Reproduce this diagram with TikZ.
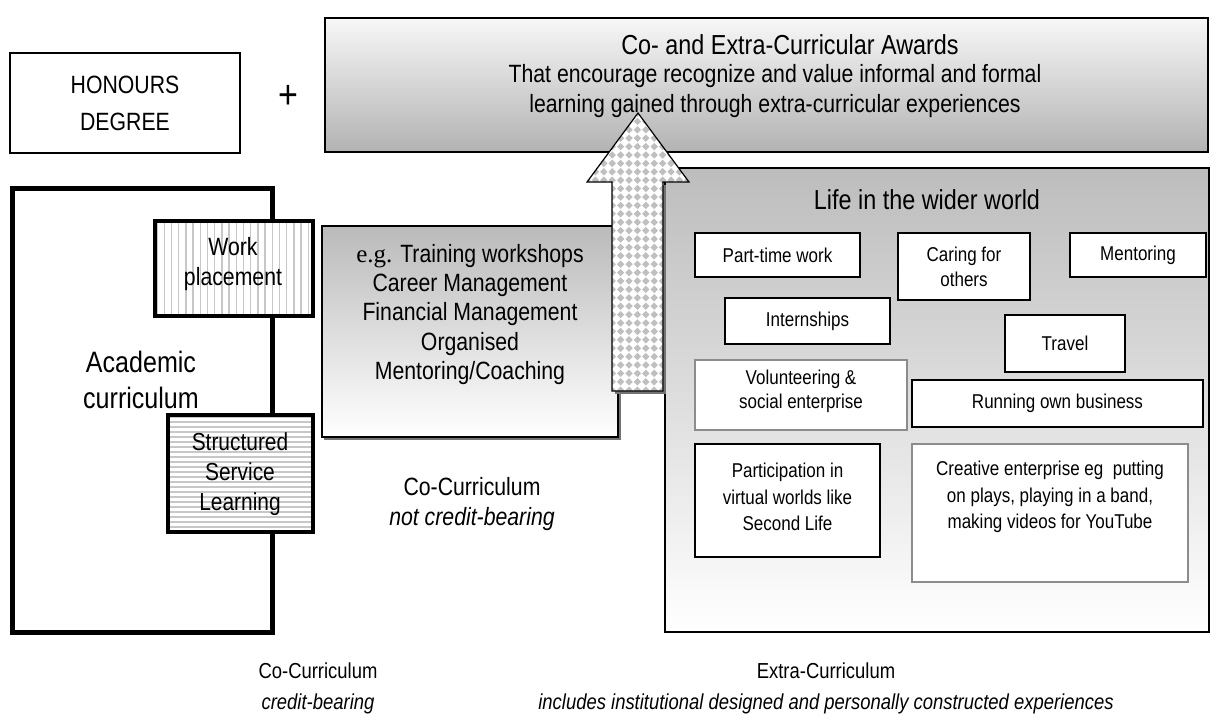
\documentclass[tikz,border=0pt]{standalone}
\usepackage{fontspec}
\setmainfont{Liberation Sans}[FakeStretch=0.85]
\newfontfamily\serifrm{Liberation Serif}
\begin{document}
\begin{tikzpicture}[x=1pt,y=-1pt,
  box/.style={draw=black, line width=1.2pt, fill=white, align=center, inner sep=0pt},
  graybox/.style={box, draw=black!45},
  small/.style={font=\fontsize{20}{25}\selectfont, align=center},
  mid/.style={font=\fontsize{25}{29}\selectfont, align=center},
  lbl/.style={font=\fontsize{25}{30}\selectfont, align=center},
  bottomlbl/.style={font=\fontsize{21.7}{31}\selectfont, align=center}]
\useasboundingbox (0,0) rectangle (1210,720);

% Honours degree
\node[box, minimum width=230pt, minimum height=100pt, font=\fontsize{25}{37}\selectfont] (hon) at (125,103) {HONOURS\\DEGREE};
\node[font=\fontsize{40}{40}\selectfont] (plus) at (288,97) {+};

% Awards box
\node[box, top color=white!97!black, bottom color=black!30, minimum width=883pt, minimum height=134pt] (awd) at (766.5,85) {};
\node[font=\fontsize{27.5}{30}\selectfont] (awdt) at (790,45) {Co- and Extra-Curricular Awards};
\node[font=\fontsize{25}{30}\selectfont, align=center] (awdx) at (775,91) {That encourage recognize and value informal and formal\\learning gained through extra-curricular experiences};

% Academic curriculum
\node[draw, line width=5pt, minimum width=260pt, minimum height=444pt] (acad) at (142,410) {};
\node[font=\fontsize{29.5}{36}\selectfont, align=center] (acadt) at (141,380) {Academic\\curriculum};

% Work placement
\node[box, minimum width=158pt, minimum height=95pt] (work) at (234,268.5) {};
\begin{scope}
  \clip (155,221) rectangle (313,316);
  \foreach \i in {0,...,22} \draw[black!22, line width=1.4pt] ({157+\i*7.2},221) -- ({157+\i*7.2},316);
\end{scope}
\draw[line width=3.5pt] (155,221) rectangle (313,316);
\node[mid, font=\fontsize{25}{30}\selectfont] (workt) at (233,264) {Work\\placement};

% Structured service learning
\node[box, minimum width=145pt, minimum height=117pt] (ssl) at (240.5,473.5) {};
\begin{scope}
  \clip (168,415) rectangle (313,532);
  \foreach \j in {0,...,24} \draw[black!22, line width=1.2pt] (168,{417+\j*5}) -- (313,{417+\j*5});
\end{scope}
\draw[line width=3.5pt] (168,415) rectangle (313,532);
\node[mid, font=\fontsize{24.6}{30}\selectfont] (sslt) at (240,474) {Structured\\Service\\Learning};

% Training box
\fill[black!55] (324,228) rectangle (621,440);
\node[box, top color=black!27, bottom color=white, minimum width=296pt, minimum height=211pt] (train) at (470,331.5) {};
\node[mid, font=\fontsize{25}{29.3}\selectfont] (traint) at (470,314.5) {{\serifrm e.g.} Training workshops\\Career Management\\Financial Management\\Organised\\Mentoring/Coaching};
\node[lbl] (cocur) at (472,504) {Co-Curriculum\\\textit{not credit-bearing}};

% Life in the wider world
\node[box, top color=black!26, bottom color=white, minimum width=544pt, minimum height=464pt] (life) at (937,400) {};
\node[font=\fontsize{27.5}{30}\selectfont] (lifet) at (927,200) {Life in the wider world};

\node[box, small, minimum width=165pt, minimum height=44pt] (pt) at (777.5,255) {Part-time work};
\node[box, small, minimum width=132pt, minimum height=67pt] (care) at (964,266.5) {Caring for\\others};
\node[box, small, minimum width=136pt, minimum height=44pt] (ment) at (1138,255) {Mentoring};
\node[box, small, minimum width=165pt, minimum height=46pt] (intern) at (807.5,321) {Internships};
\node[box, small, minimum width=120pt, minimum height=57pt] (travel) at (1065,343.5) {Travel};
\node[graybox, minimum width=212pt, minimum height=70pt] (vol) at (801,395) {};
\node[small, font=\fontsize{20}{24}\selectfont] (volt) at (801,391) {Volunteering \&\\social enterprise};
\node[box, small, minimum width=291pt, minimum height=47pt] (run) at (1057.5,403.5) {Running own business};
\node[box, minimum width=185pt, minimum height=113pt] (part) at (787.5,500.5) {};
\node[small, font=\fontsize{20}{26.5}\selectfont] (partt) at (787.5,497) {Participation in\\virtual worlds like\\Second Life};
\node[graybox, minimum width=276pt, minimum height=138pt] (crea) at (1050,513) {};
\node[small, font=\fontsize{20}{26.5}\selectfont] (creat) at (1050,497) {Creative enterprise eg\ \ putting\\on plays, playing in a band,\\making videos for YouTube};

% Upward arrow
\fill[black!55] (615,394) -- (615,185) -- (666,185) -- (666,394) -- cycle;
\fill[white] (612,391) -- (612,182) -- (587,182) -- (638,113) -- (689,182) -- (663,182) -- (663,391) -- cycle;
\begin{scope}
  \clip (612,391) -- (612,182) -- (587,182) -- (638,113) -- (689,182) -- (663,182) -- (663,391) -- cycle;
  \foreach \i in {0,...,13} \foreach \j in {0,...,34}
    \fill[black!25] ({587+\i*8.4},{113+\j*8.4}) +(0,-3.7) -- +(3.7,0) -- +(0,3.7) -- +(-3.7,0) -- cycle;
\end{scope}
\draw[line width=1.2pt, line join=miter] (612,391) -- (612,182) -- (587,182) -- (638,113) -- (689,182) -- (663,182) -- (663,391) -- cycle;

% Bottom labels
\node[bottomlbl] (cocred) at (318,688) {Co-Curriculum\\\textit{credit-bearing}};
\node[bottomlbl] (extra) at (826,688) {Extra-Curriculum\\\textit{includes institutional designed and personally constructed experiences}};
\end{tikzpicture}
\end{document}
